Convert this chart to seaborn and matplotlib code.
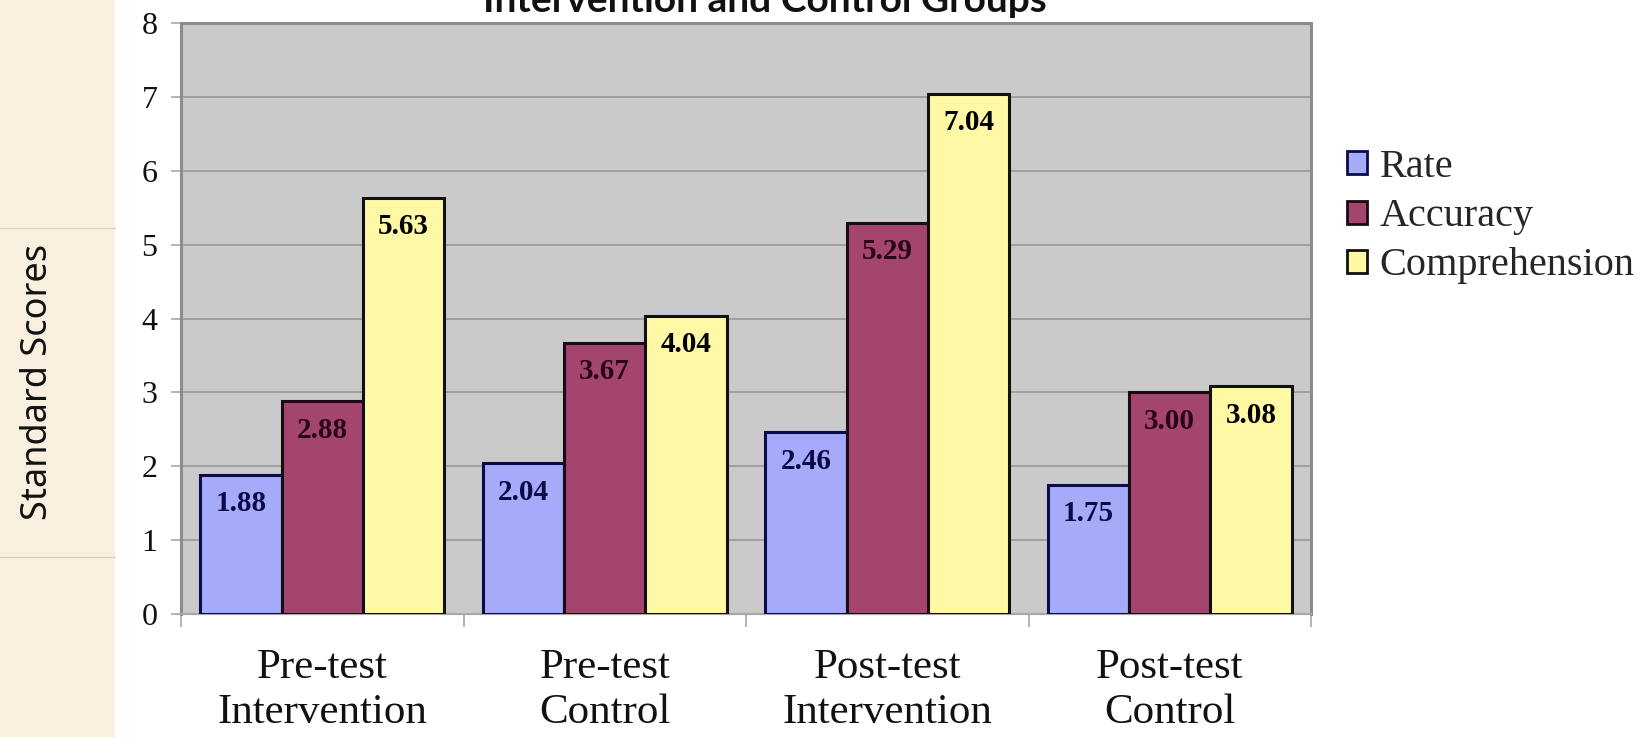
import matplotlib
matplotlib.use("Agg")
import matplotlib.pyplot as plt
from matplotlib.patches import Rectangle
from matplotlib.lines import Line2D
from matplotlib.ticker import FixedLocator
import seaborn as sns
import pandas as pd

# Chart data
groups = ["Pre-test\nIntervention", "Pre-test\nControl", "Post-test\nIntervention", "Post-test\nControl"]
measures = ["Rate", "Accuracy", "Comprehension"]
rate = [1.88, 2.04, 2.46, 1.75]
accuracy = [2.88, 3.67, 5.29, 3.00]
comprehension = [5.63, 4.04, 7.04, 3.08]
y_ticks = [0, 1, 2, 3, 4, 5, 6, 7, 8]

fill_colors = ["#A5ABF9", "#A4456F", "#FFF9A6"]
edge_colors = ["#0B0B4A", "#1A0A12", "#111111"]
label_colors = ["#0A0A48", "#2A0418", "#000000"]

df = pd.DataFrame({
    "group": groups * 3,
    "measure": [m for m in measures for _ in groups],
    "score": rate + accuracy + comprehension,
})

sns.set_theme(style="white")
serif = ["Liberation Serif", "DejaVu Serif"]

fig = plt.figure(figsize=(16.49, 7.37), dpi=100)
fig.patch.set_facecolor("white")

# decorative side strip
fig.patches.append(Rectangle((0, 0), 115 / 1649, 1, transform=fig.transFigure,
                             facecolor="#F9EFDF", edgecolor="none", zorder=0))
for yy in (1 - 228 / 737, 1 - 557 / 737):
    fig.lines.append(Line2D([0, 115 / 1649], [yy, yy], transform=fig.transFigure,
                            color="#DDD3C5", lw=1.0))

ax = fig.add_axes([181 / 1649, 1 - 614 / 737, (1311 - 181) / 1649, (614 - 23) / 737])
ax.set_facecolor("#CACACA")

sns.barplot(data=df, x="group", y="score", hue="measure", order=groups,
            hue_order=measures, palette=fill_colors, saturation=1, width=0.864,
            linewidth=2.2, edgecolor="black", errorbar=None, ax=ax, zorder=3)

for cont, ec, lc, vals in zip(ax.containers, edge_colors, label_colors,
                              [rate, accuracy, comprehension]):
    for bar, v in zip(cont, vals):
        bar.set_edgecolor(ec)
        ax.annotate(f"{v:.2f}", xy=(bar.get_x() + bar.get_width() / 2, bar.get_height()),
                    xytext=(0, -11), textcoords="offset points", ha="center", va="top",
                    fontsize=21, fontweight="bold", color=lc, family=serif, zorder=5)

ax.set_ylim(0, 8)
ax.set_xlim(-0.5, 3.5)
ax.set_yticks(y_ticks)
ax.set_yticklabels([str(t) for t in y_ticks], family=serif, fontsize=23, color="#111111")
ax.set_xticks(range(len(groups)))
ax.set_xticklabels(groups, family=serif, fontsize=31, color="#111111", linespacing=1.2)
ax.xaxis.set_minor_locator(FixedLocator([-0.5, 0.5, 1.5, 2.5, 3.5]))
ax.tick_params(axis="x", which="major", length=0, pad=25)
ax.tick_params(axis="x", which="minor", length=9, color="#A8A8A8", width=1.2, bottom=True)
ax.tick_params(axis="y", length=7, color="#A8A8A8", width=1.2, left=True, pad=10)
ax.set_xlabel("")
ax.set_ylabel("")

ax.yaxis.grid(True, color="#9C9C9C", lw=1.3, zorder=0)
ax.xaxis.grid(False)
ax.set_axisbelow(True)
for side in ["left", "top", "right"]:
    ax.spines[side].set_color("#8C8C8C")
    ax.spines[side].set_linewidth(2.2)
ax.spines["bottom"].set_color("#A8A8A8")
ax.spines["bottom"].set_linewidth(1.6)

leg = ax.legend(loc="center left", bbox_to_anchor=(1.0, 0.672), frameon=False,
                prop={"family": serif, "size": 29}, handlelength=0.5, handleheight=0.5,
                handletextpad=0.3, labelspacing=0.3, borderaxespad=0.5)
for h, ec in zip(leg.legend_handles, edge_colors):
    h.set_edgecolor(ec)
    h.set_linewidth(2.0)

fig.text(38 / 1649, 1 - 382 / 737, "Standard Scores", rotation=90, ha="center", va="center",
         fontsize=26, color="#111111", family=["Noto Sans", "DejaVu Sans"])

fig.text(765 / 1649, 1 - 12 / 737, "Intervention and Control Groups", ha="center",
         va="baseline", fontsize=28, fontweight="bold", color="#111111",
         family=["Lato", "Open Sans", "DejaVu Sans"])

fig.savefig("out.png", dpi=100)
